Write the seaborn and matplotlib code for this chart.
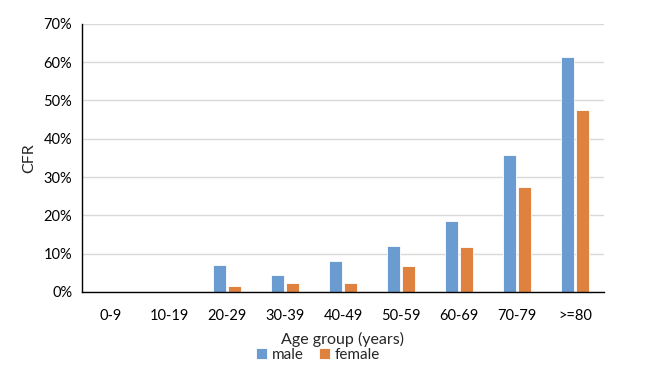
import numpy as np
import pandas as pd
import seaborn as sns
import matplotlib.pyplot as plt
from matplotlib.ticker import PercentFormatter

age_groups = ["0-9", "10-19", "20-29", "30-39", "40-49", "50-59", "60-69", "70-79", ">=80"]
male_cfr = [0.0, 0.0, 7.0, 4.4, 8.1, 12.1, 18.5, 35.7, 61.2]
female_cfr = [0.0, 0.0, 1.6, 2.3, 2.4, 6.8, 11.8, 27.3, 47.4]
sexes = ["male", "female"]

df = pd.DataFrame({
    "age": age_groups * 2,
    "cfr": male_cfr + female_cfr,
    "sex": ["male"] * len(age_groups) + ["female"] * len(age_groups),
})

sns.set_style("white")
plt.rcParams['font.family'] = ['Lato', 'DejaVu Sans']

fig = plt.figure(figsize=(6.48, 3.77), dpi=100)
ax = fig.add_axes([0.1265, 0.2255, 0.8055, 0.7115])

palette = {"male": "#6a9bd1", "female": "#e0823f"}
sns.barplot(data=df, x="age", y="cfr", hue="sex", hue_order=sexes, order=age_groups,
            palette=palette, width=0.5, gap=0.1, edgecolor="white", linewidth=0.6,
            saturation=1, ax=ax)

ax.set_ylim(0, 70)
ax.set_yticks(np.arange(0, 71, 10))
ax.yaxis.set_major_formatter(PercentFormatter(decimals=0))
ax.grid(axis="y", color="#d9d9d9", linewidth=1)
ax.set_axisbelow(True)
for s in ["top", "right"]:
    ax.spines[s].set_visible(False)
ax.spines["left"].set_color("black")
ax.spines["bottom"].set_color("black")
ax.spines["left"].set_linewidth(1)
ax.spines["bottom"].set_linewidth(1)
ax.tick_params(axis="both", length=0, labelsize=10.5, colors="black", pad=7)
ax.tick_params(axis="x", pad=12)

ax.set_xlabel("Age group (years)", fontsize=11.5, labelpad=7)
ax.set_ylabel("CFR", fontsize=11.5, labelpad=5)

ax.legend(loc="center", bbox_to_anchor=(0.452, -0.234), ncol=2, frameon=False,
          fontsize=11, handlelength=0.75, handleheight=0.75, handletextpad=0.3,
          columnspacing=1.0, borderaxespad=0, borderpad=0)

fig.savefig("out.png", dpi=100)
